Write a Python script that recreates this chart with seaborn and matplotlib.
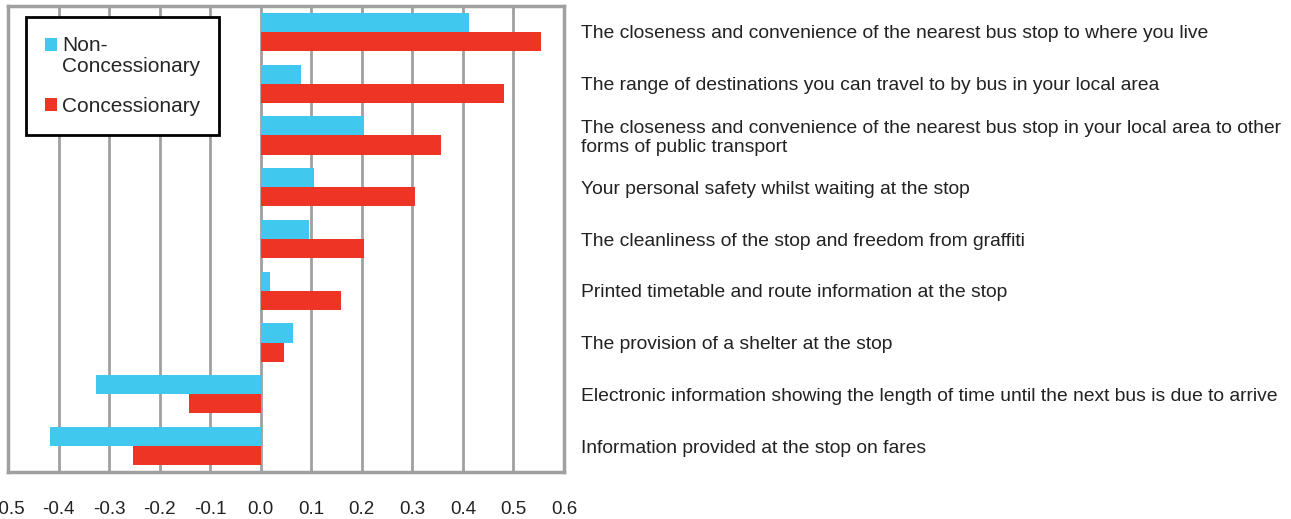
import matplotlib
matplotlib.use("Agg")
import matplotlib.pyplot as plt
import seaborn as sns
import pandas as pd
from matplotlib.patches import Patch, Rectangle
from matplotlib.legend_handler import HandlerPatch

categories = [
    "The closeness and convenience of the nearest bus stop to where you live",
    "The range of destinations you can travel to by bus in your local area",
    "The closeness and convenience of the nearest bus stop in your local area to other\nforms of public transport",
    "Your personal safety whilst waiting at the stop",
    "The cleanliness of the stop and freedom from graffiti",
    "Printed timetable and route information at the stop",
    "The provision of a shelter at the stop",
    "Electronic information showing the length of time until the next bus is due to arrive",
    "Information provided at the stop on fares",
]
non_concessionary = [0.413, 0.079, 0.204, 0.105, 0.095, 0.018, 0.063, -0.325, -0.416]
concessionary = [0.555, 0.481, 0.356, 0.306, 0.204, 0.158, 0.046, -0.142, -0.253]
series_names = ["Non-Concessionary", "Concessionary"]
legend_labels = ["Non-\nConcessionary", "Concessionary"]
x_ticks = [-0.5, -0.4, -0.3, -0.2, -0.1, 0.0, 0.1, 0.2, 0.3, 0.4, 0.5, 0.6]

colors = ["#40C8EE", "#EE3424"]

df = pd.DataFrame({
    "category": categories * 2,
    "value": non_concessionary + concessionary,
    "series": [series_names[0]] * len(categories) + [series_names[1]] * len(categories),
})

sns.set_style("white")
plt.rcParams["font.family"] = ["Liberation Sans", "DejaVu Sans"]

fig = plt.figure(figsize=(12.91, 5.19), dpi=100)
ax = fig.add_axes([8 / 1291, 1 - 472 / 519, (564 - 8) / 1291, (472 - 6) / 519])

sns.barplot(data=df, x="value", y="category", hue="series", hue_order=series_names,
            palette=colors, orient="h", width=0.74, saturation=1, ax=ax, legend=False,
            linewidth=0, edgecolor="none", zorder=3)

ax.set_xlim(-0.5, 0.6)
ax.set_ylim(len(categories) - 0.5, -0.5)
ax.set_xticks(x_ticks)
ax.set_xticklabels([f"{t:.1f}" for t in x_ticks])
ax.tick_params(axis="x", length=0, pad=21, labelsize=13.5, labelcolor="#222222")
ax.set_xlabel("")
ax.set_ylabel("")

ax.grid(axis="x", color="#A0A0A0", linewidth=2, zorder=0)
ax.grid(axis="y", visible=False)
ax.set_axisbelow(True)
for sp in ax.spines.values():
    sp.set_color("#A0A0A0")
    sp.set_linewidth(2.5)

ax.yaxis.tick_right()
ax.tick_params(axis="y", length=0, pad=12, labelsize=13.9, labelcolor="#222222")
for lbl in ax.get_yticklabels():
    lbl.set_linespacing(1.12)


def make_patch(shift):
    def f(legend, orig_handle, xdescent, ydescent, width, height, fontsize):
        return Rectangle((-xdescent, -ydescent + shift * fontsize), width, height)
    return f


handles = [Patch(facecolor=c, edgecolor="none") for c in colors]
leg = ax.legend(handles, legend_labels, loc="upper left",
                bbox_to_anchor=(26 / 1291, 1 - 17 / 519), bbox_transform=fig.transFigure,
                frameon=True, fancybox=False, framealpha=1, edgecolor="black",
                fontsize=15, handlelength=0.6, handleheight=0.6, handletextpad=0.25,
                labelspacing=1.0, borderpad=0.9, borderaxespad=0,
                handler_map={handles[0]: HandlerPatch(patch_func=make_patch(0.55)),
                             handles[1]: HandlerPatch(patch_func=make_patch(0.0))})
leg.get_frame().set_linewidth(2)
for t in leg.get_texts():
    t.set_linespacing(1.15)

fig.savefig("out.png", dpi=100)
